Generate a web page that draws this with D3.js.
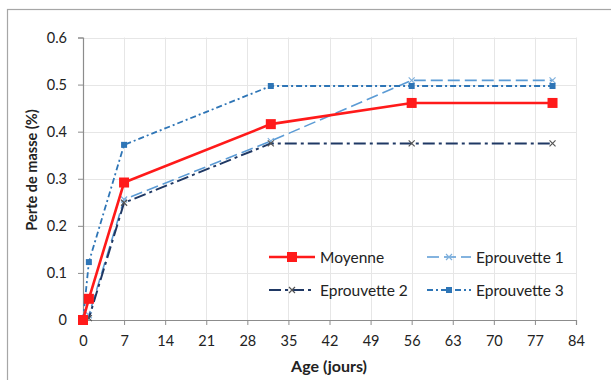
<!DOCTYPE html>
<html><head><meta charset="utf-8">
<script src="https://cdn.jsdelivr.net/npm/d3@7"></script>
<style>body{margin:0;background:#fff;} text{font-family:Lato,"Open Sans",sans-serif;}</style>
</head><body>
<svg id="c" width="611" height="380"></svg>
<script>
const days = [0, 1, 7, 32, 56, 80];
const moyenne = [0, 0.045, 0.292, 0.416, 0.461, 0.461];
const eprouvette1 = [0, 0.01, 0.256, 0.38, 0.509, 0.509];
const eprouvette2 = [0, 0.004, 0.249, 0.375, 0.375, 0.375];
const eprouvette3 = [0, 0.123, 0.372, 0.497, 0.497, 0.497];
const xTicks = [0, 7, 14, 21, 28, 35, 42, 49, 56, 63, 70, 77, 84];
const yTicks = [0, 0.1, 0.2, 0.3, 0.4, 0.5, 0.6];
const seriesNames = ["Moyenne", "Eprouvette 1", "Eprouvette 2", "Eprouvette 3"];

const svg = d3.select("#c");
const x = d3.scaleLinear().domain([0, 84]).range([83, 576]);
const y = d3.scaleLinear().domain([0, 0.6]).range([320, 37.5]);

// chart border
svg.append("rect").attr("x", 7.5).attr("y", 9.5).attr("width", 640).attr("height", 400)
  .attr("fill", "#fff").attr("stroke", "#a6a6a6").attr("stroke-width", 1.2);

// gridlines
svg.append("g").selectAll("line.h").data(yTicks.slice(1)).join("line")
  .attr("x1", x(0)).attr("x2", x(84)).attr("y1", d => Math.round(y(d)) + 0.5).attr("y2", d => Math.round(y(d)) + 0.5)
  .attr("stroke", "#e6e6e6");
svg.append("g").selectAll("line.v").data(xTicks.slice(1)).join("line")
  .attr("y1", y(0)).attr("y2", y(0.6)).attr("x1", d => Math.round(x(d)) + 0.5).attr("x2", d => Math.round(x(d)) + 0.5)
  .attr("stroke", "#e6e6e6");

// axes
const xAxis = svg.append("g").attr("transform", `translate(0,${y(0)})`)
  .call(d3.axisBottom(x).tickValues(xTicks).tickSize(5).tickPadding(11).tickFormat(d3.format("d")));
const yAxis = svg.append("g").attr("transform", `translate(${x(0)},0)`)
  .call(d3.axisLeft(y).tickValues(yTicks).tickSize(5).tickPadding(11).tickFormat(d => d === 0 ? "0" : d3.format(".1f")(d)));
[xAxis, yAxis].forEach(a => {
  a.select(".domain").attr("stroke", "#8c8c8c").attr("stroke-width", 1.2);
  a.selectAll(".tick line").attr("stroke", "#8c8c8c");
  a.selectAll("text").attr("font-size", 14.5).attr("fill", "#222").attr("font-family", "Lato, sans-serif");
});

// axis titles
svg.append("text").attr("x", 329).attr("y", 372).attr("text-anchor", "middle")
  .attr("font-size", 16).attr("font-weight", "bold").attr("fill", "#222").text("Age (jours)");
svg.append("text").attr("transform", "translate(37,170) rotate(-90)").attr("text-anchor", "middle")
  .attr("font-size", 14.5).attr("font-weight", "bold").attr("fill", "#222").text("Perte de masse (%)");

const styles = [
  {name: seriesNames[1], vals: eprouvette1, color: "#5b9bd5", width: 1.6, dash: "12,5", marker: "x", mcolor: "#7fb0dc", msize: 3},
  {name: seriesNames[2], vals: eprouvette2, color: "#1f3864", width: 2, dash: "12,4,3,4", marker: "x", mcolor: "#555", msize: 3},
  {name: seriesNames[3], vals: eprouvette3, color: "#2e75b6", width: 1.8, dash: "6,3,2,3", marker: "sq", mcolor: "#2e75b6", msize: 6},
  {name: seriesNames[0], vals: moyenne, color: "#ff1a1a", width: 2.6, dash: null, marker: "sq", mcolor: "#ff1a1a", msize: 10}
];

const line = d3.line().x(d => x(d[0])).y(d => y(d[1]));

function drawMarker(g, cx, cy, s) {
  if (s.marker === "sq") {
    g.append("rect").attr("x", cx - s.msize / 2).attr("y", cy - s.msize / 2)
      .attr("width", s.msize).attr("height", s.msize).attr("fill", s.mcolor);
  } else {
    const r = s.msize;
    g.append("path").attr("d", `M${cx - r},${cy - r}L${cx + r},${cy + r}M${cx - r},${cy + r}L${cx + r},${cy - r}`)
      .attr("stroke", s.mcolor).attr("stroke-width", 1.2).attr("fill", "none");
  }
}

styles.forEach(s => {
  const pts = days.map((d, i) => [d, s.vals[i]]);
  const g = svg.append("g");
  g.append("path").attr("d", line(pts)).attr("fill", "none").attr("stroke", s.color)
    .attr("stroke-width", s.width).attr("stroke-dasharray", s.dash);
  pts.forEach(p => drawMarker(g, x(p[0]), y(p[1]), s));
});

// legend
const legendPos = {
  "Moyenne": [269, 257], "Eprouvette 1": [427, 257],
  "Eprouvette 2": [269, 290], "Eprouvette 3": [427, 290]
};
styles.forEach(s => {
  const [lx, ly] = legendPos[s.name];
  const lw = s.name === "Moyenne" || s.name === "Eprouvette 2" ? 46 : 44;
  const g = svg.append("g");
  g.append("line").attr("x1", lx).attr("x2", lx + lw).attr("y1", ly).attr("y2", ly)
    .attr("stroke", s.color).attr("stroke-width", s.width).attr("stroke-dasharray", s.dash);
  drawMarker(g, lx + lw / 2, ly, s);
  g.append("text").attr("x", lx + lw + 5).attr("y", ly + 5.5).attr("font-size", 15.5).attr("fill", "#222").text(s.name);
});
</script>
</body></html>
